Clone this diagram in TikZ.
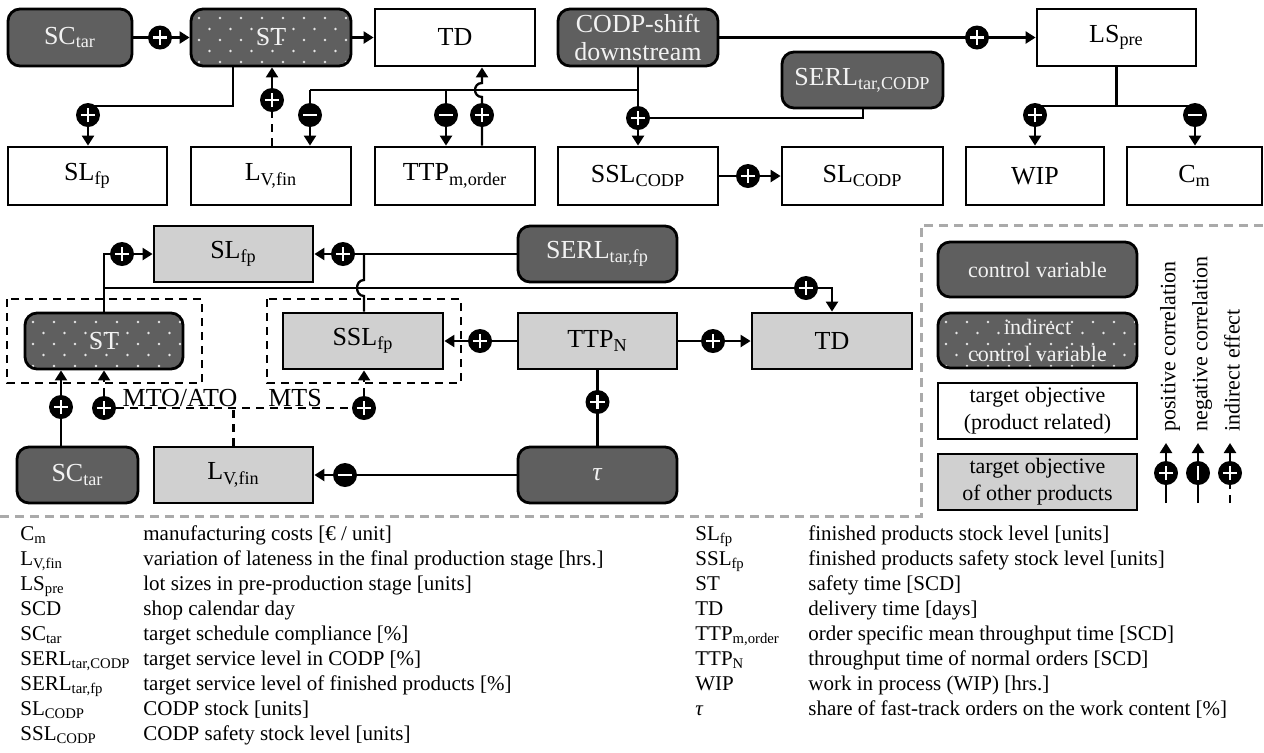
\documentclass[tikz,border=0pt]{standalone}
\usepackage{fontspec}
\setmainfont{Liberation Serif}
\usetikzlibrary{arrows.meta,calc,backgrounds}
\definecolor{darkf}{HTML}{5F5F5F}
\definecolor{lightf}{HTML}{D0D0D0}
\definecolor{dotc}{HTML}{E6E6E6}
\definecolor{frameg}{HTML}{AAAAAA}
\definecolor{txtw}{HTML}{F2F2F2}
\tikzset{
  bx/.style={draw=black, line width=1.4pt, inner sep=0pt, font=\fontsize{13}{14}\selectfont, align=center},
  ctrl/.style={bx, fill=darkf, rounded corners=6pt, text=txtw},
  ind/.style={ctrl, path picture={
     \foreach \r in {0,...,5}{
       \foreach \c in {-1,...,9}{
         \fill[dotc] ($(path picture bounding box.north west)+({4pt+\c*10.5pt+mod(\r,2)*5.25pt},{-4.5pt-\r*5.5pt})$) circle[radius=0.7pt];
       }}}},
  tgt/.style={bx, fill=white},
  oth/.style={bx, fill=lightf},
  lgf/.style={font=\fontsize{11}{13.5}\selectfont},
  conn/.style={line width=1.15pt},
  arr/.style={conn, -{Triangle[length=5pt,width=6pt]}},
  indir/.style={conn, dash pattern=on 4pt off 3pt},
  indarr/.style={indir, -{Triangle[length=5pt,width=6pt]}},
  sgn/.style={circle, fill=black, minimum size=12pt, inner sep=0pt},
  plusc/.style={sgn, path picture={\draw[white, line width=1.2pt]
      ($(path picture bounding box.center)+(-3.6pt,0)$) -- ++(7.2pt,0)
      ($(path picture bounding box.center)+(0,-3.6pt)$) -- ++(0,7.2pt);}},
  minusc/.style={sgn, path picture={\draw[white, line width=1.2pt]
      ($(path picture bounding box.center)+(-3.6pt,0)$) -- ++(7.2pt,0);}},
  minusv/.style={sgn, path picture={\draw[white, line width=1.2pt]
      ($(path picture bounding box.center)+(0,-3.6pt)$) -- ++(0,7.2pt);}},
  frm/.style={black, line width=1pt, dash pattern=on 4pt off 3pt},
  gfrm/.style={frameg, line width=1.5pt, dash pattern=on 4.5pt off 3pt},
  lst/.style={anchor=base west, inner sep=0pt, font=\fontsize{10.5}{12.5}\selectfont},
  lbl/.style={anchor=base, inner sep=0pt, font=\fontsize{13}{14}\selectfont},
  vtxt/.style={rotate=90, anchor=west, inner sep=0pt, font=\fontsize{11}{13}\selectfont},
}
\newcommand\bxnode[7]{\node[#1, minimum width={(#5-#3)*0.5pt}, minimum height={(#6-#4)*0.5pt}] (#2) at ({(#3+#5)/2},{(#4+#6)/2}) {#7};}
\begin{document}
\begin{tikzpicture}[x=0.5pt,y=-0.5pt]
\useasboundingbox (0,0) rectangle (1264,752);
% ---------- top part ----------
\bxnode{ctrl}{sctarA}{8}{9}{132}{66}{SC\textsubscript{tar}}
\bxnode{ind}{stA}{191}{9}{351}{66}{ST}
\bxnode{tgt}{tdA}{375}{9}{535}{66}{TD}
\bxnode{ctrl}{codp}{558}{9}{718}{66}{CODP-shift\\downstream}
\bxnode{tgt}{lspre}{1037}{9}{1196}{66}{LS\textsubscript{pre}}
\bxnode{ctrl}{serlc}{782}{52}{943}{108}{SERL\textsubscript{tar,CODP}}
\bxnode{tgt}{slfpA}{8}{147}{167}{205}{SL\textsubscript{fp}}
\bxnode{tgt}{lvA}{191}{147}{351}{205}{L\textsubscript{V,fin}}
\bxnode{tgt}{ttpm}{375}{147}{535}{205}{TTP\textsubscript{m,order}}
\bxnode{tgt}{sslc}{558}{147}{718}{205}{SSL\textsubscript{CODP}}
\bxnode{tgt}{slc}{782}{147}{943}{205}{SL\textsubscript{CODP}}
\bxnode{tgt}{wip}{966}{147}{1104}{205}{WIP}
\bxnode{tgt}{cm}{1127}{147}{1262}{205}{C\textsubscript{m}}
% ---------- middle part ----------
\bxnode{oth}{slfpB}{154}{226}{313}{282}{SL\textsubscript{fp}}
\bxnode{ctrl}{serlf}{518}{226}{677}{282}{SERL\textsubscript{tar,fp}}
\bxnode{ind}{stB}{25}{313}{183}{369}{ST}
\bxnode{oth}{sslf}{283}{313}{443}{369}{SSL\textsubscript{fp}}
\bxnode{oth}{ttpn}{518}{313}{677}{369}{TTP\textsubscript{N}}
\bxnode{oth}{tdB}{752}{313}{912}{369}{TD}
\bxnode{ctrl}{sctarB}{17}{447}{138}{503}{SC\textsubscript{tar}}
\bxnode{oth}{lvB}{154}{447}{313}{503}{L\textsubscript{V,fin}}
\bxnode{ctrl}{tau}{518}{447}{677}{503}{\textit{τ}}
\draw[frm] (7,299) rectangle (202,383);
\draw[frm] (267,299) rectangle (461,383);
\node[lbl] (mto) at (180,406) {MTO/ATO};
\node[lbl] (mts) at (295,406) {MTS};
% ---------- legend ----------
\draw[gfrm] (0,516) -- (921,516) -- (921,225) -- (1264,225);
\bxnode{ctrl,lgf}{lg1}{938}{242}{1137}{297}{control variable}
\bxnode{ind,lgf}{lg2}{938}{313}{1137}{368}{indirect\\control variable}
\bxnode{tgt,lgf}{lg3}{938}{383}{1137}{439}{target objective\\(product related)}
\bxnode{oth,lgf}{lg4}{938}{454}{1137}{510}{target objective\\of other products}
\node[vtxt] (vt1) at (1170,432) {positive correlation};
\node[vtxt] (vt2) at (1202,432) {negative correlation};
\node[vtxt] (vt3) at (1232,432) {indirect effect};
% ---------- sign circles ----------
\node[plusc] (cA1) at (160,37.5) {};
\node[plusc] (cA2) at (88,115) {};
\node[plusc] (cA3) at (272,100) {};
\node[minusc] (cA4) at (310,115) {};
\node[minusc] (cA5) at (446,115) {};
\node[plusc] (cA6) at (482,115) {};
\node[plusc] (cA7) at (638,118) {};
\node[plusc] (cA8) at (977,37.5) {};
\node[plusc] (cA9) at (1035,115) {};
\node[minusc] (cA10) at (1195,115) {};
\node[plusc] (cA11) at (748,176) {};
\node[plusc] (cB1) at (122,254) {};
\node[plusc] (cB2) at (343,254) {};
\node[plusc] (cB3) at (806,288) {};
\node[plusc] (cB4) at (480,341) {};
\node[plusc] (cB5) at (713,341) {};
\node[plusc] (cB6) at (597.5,402) {};
\node[minusc] (cB7) at (345,475) {};
\node[plusc] (cB8) at (61,407) {};
\node[plusc] (cB9) at (104,408) {};
\node[plusc] (cB10) at (364,408) {};
\node[plusc] (cL1) at (1166,473) {};
\node[minusv] (cL2) at (1198,473) {};
\node[plusc] (cL3) at (1230,473) {};
% junction coordinates
\coordinate (jA) at (638,90);
\coordinate (jA2) at (310,90);
\coordinate (jL) at (1116.5,106);
\coordinate (jS) at (104,288);
\coordinate (jM) at (233.5,408);
\coordinate (jK) at (364,254);
% ---------- connectors ----------
\begin{pgfonlayer}{background}
\draw[arr] (sctarA) -- (stA);
\draw[arr] (stA) -- (tdA);
\draw[arr] (233,0 |- stA.south) -- (233,106) -| (cA2 |- slfpA.north);
\draw[indir] (cA3 |- lvA.north) -- (cA3);
\draw[arr] (cA3) -- (cA3 |- stA.south);
\draw[arr] (codp) -- (sslc);
\draw[conn] (jA) -- (jA2);
\draw[arr] (jA2) -- (cA4 |- lvA.north);
\draw[arr] (cA5 |- jA) -- (cA5 |- ttpm.north);
\draw[conn] (863,0 |- serlc.south) |- (cA7);
\draw[arr] (cA6 |- ttpm.north) -- (482,97) .. controls (472.7,97) and (472.7,83) .. (482,83) -- (cA6 |- tdA.south);
\draw[arr] (codp) -- (lspre);
\draw[conn] (lspre) -- (jL);
\draw[arr] (jL) -| (cA9 |- wip.north);
\draw[arr] (jL) -| (cA10 |- cm.north);
\draw[arr] (sslc) -- (slc);
\draw[arr] (jS |- stB.north) |- (slfpB.west);
\draw[arr] (jS) -| (tdB.north);
\draw[arr] (serlf) -- (slfpB);
\draw[conn] (jK |- sslf.north) -- (364,296) .. controls (354.7,296) and (354.7,280) .. (364,280) -- (jK);
\draw[arr] (ttpn) -- (sslf);
\draw[arr] (ttpn) -- (tdB);
\draw[conn] (tau) -- (ttpn);
\draw[arr] (tau) -- (lvB);
\draw[arr] (cB8 |- sctarB.north) -- (cB8 |- stB.south);
\draw[indir] (lvB.north) -- (jM);
\draw[indir] (cB9) -- (cB10);
\draw[indarr] (cB9) -- (cB9 |- stB.south);
\draw[indarr] (cB10) -- (cB10 |- sslf.south);
\draw[arr] (cL1 |- 0,503) -- (cL1 |- 0,443);
\draw[arr] (cL2 |- 0,503) -- (cL2 |- 0,443);
\draw[indarr] (cL3 |- 0,503) -- (cL3 |- 0,443);
\end{pgfonlayer}
% ---------- abbreviation list ----------
\node[lst] (s1) at (20,540) {C\textsubscript{m}};
\node[lst] (d1) at (143,540) {manufacturing costs [€ / unit]};
\node[lst] (s2) at (20,565) {L\textsubscript{V,fin}};
\node[lst] (d2) at (143,565) {variation of lateness in the final production stage [hrs.]};
\node[lst] (s3) at (20,590) {LS\textsubscript{pre}};
\node[lst] (d3) at (143,590) {lot sizes in pre-production stage [units]};
\node[lst] (s4) at (20,615) {SCD};
\node[lst] (d4) at (143,615) {shop calendar day};
\node[lst] (s5) at (20,640) {SC\textsubscript{tar}};
\node[lst] (d5) at (143,640) {target schedule compliance [\%]};
\node[lst] (s6) at (20,665) {SERL\textsubscript{tar,CODP}};
\node[lst] (d6) at (143,665) {target service level in CODP [\%]};
\node[lst] (s7) at (20,690) {SERL\textsubscript{tar,fp}};
\node[lst] (d7) at (143,690) {target service level of finished products [\%]};
\node[lst] (s8) at (20,715) {SL\textsubscript{CODP}};
\node[lst] (d8) at (143,715) {CODP stock [units]};
\node[lst] (s9) at (20,740) {SSL\textsubscript{CODP}};
\node[lst] (d9) at (143,740) {CODP safety stock level [units]};
\node[lst] (r1) at (695,540) {SL\textsubscript{fp}};
\node[lst] (e1) at (808,540) {finished products stock level [units]};
\node[lst] (r2) at (695,565) {SSL\textsubscript{fp}};
\node[lst] (e2) at (808,565) {finished products safety stock level [units]};
\node[lst] (r3) at (695,590) {ST};
\node[lst] (e3) at (808,590) {safety time [SCD]};
\node[lst] (r4) at (695,615) {TD};
\node[lst] (e4) at (808,615) {delivery time [days]};
\node[lst] (r5) at (695,640) {TTP\textsubscript{m,order}};
\node[lst] (e5) at (808,640) {order specific mean throughput time [SCD]};
\node[lst] (r6) at (695,665) {TTP\textsubscript{N}};
\node[lst] (e6) at (808,665) {throughput time of normal orders [SCD]};
\node[lst] (r7) at (695,690) {WIP};
\node[lst] (e7) at (808,690) {work in process (WIP) [hrs.]};
\node[lst] (r8) at (695,715) {\textit{τ}};
\node[lst] (e8) at (808,715) {share of fast-track orders on the work content [\%]};
\end{tikzpicture}
\end{document}
